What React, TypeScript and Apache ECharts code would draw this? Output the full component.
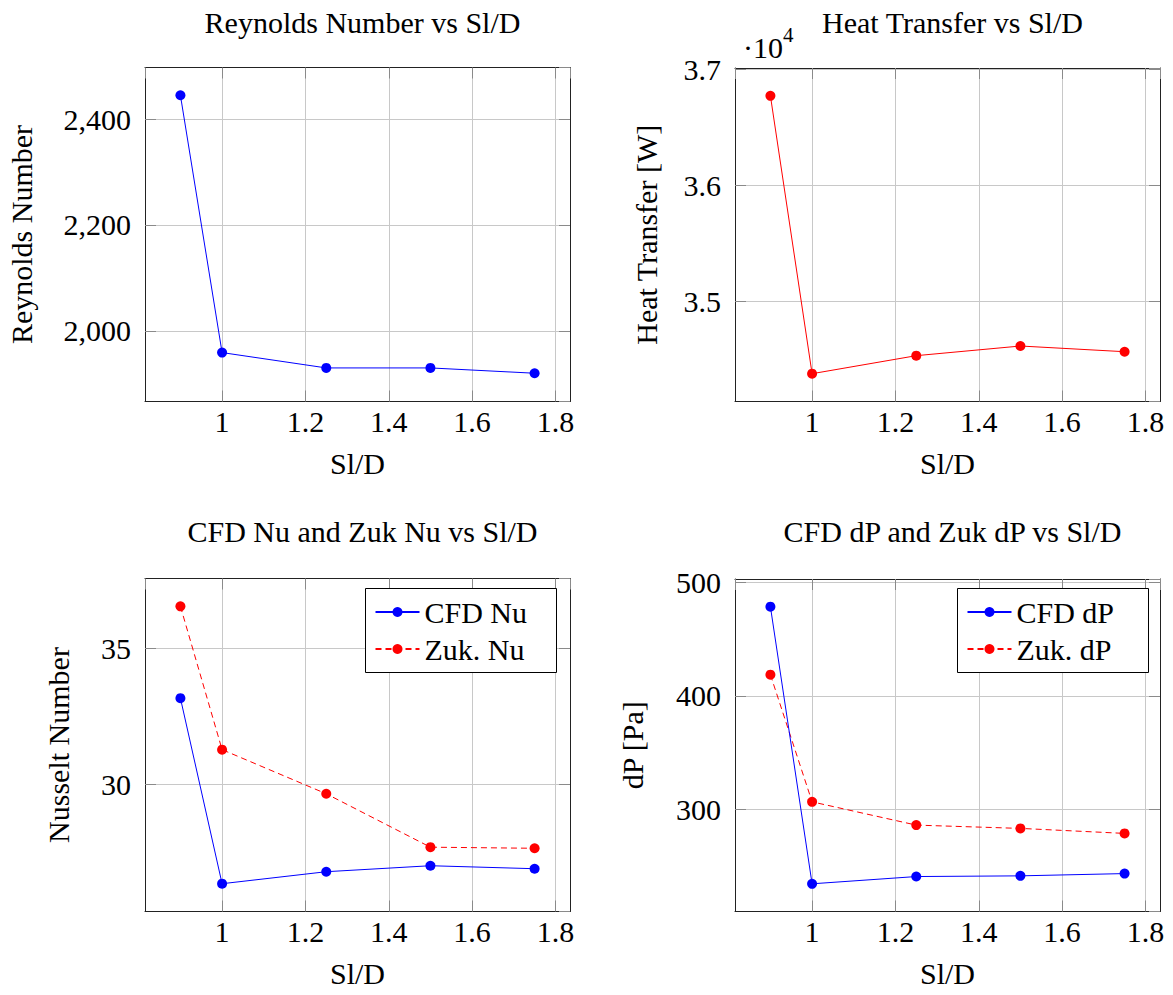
import React, { useEffect, useRef } from 'react';
import * as echarts from 'echarts';

// ---- data ----
const slD = [0.9, 1, 1.25, 1.5, 1.75];
const reynolds = [2445, 1959, 1930, 1930, 1920];
const heatTransfer = [36770, 34381, 34536, 34619, 34570];
const cfdNu = [33.17, 26.36, 26.8, 27.02, 26.91];
const zukNu = [36.54, 31.28, 29.66, 27.7, 27.66];
const cfdDP = [478.6, 234.5, 240.9, 241.5, 243.5];
const zukDP = [418.7, 306.7, 286.2, 283.3, 278.9];

const xRange = [0.815, 1.835];
const reynoldsRange = [1866.6, 2497.5];
const heatRange = [34142, 37009];
const nuRange = [25.34, 37.56];
const dpRange = [210.1, 503];

const titles = [
  'Reynolds Number vs Sl/D',
  'Heat Transfer vs Sl/D',
  'CFD Nu and Zuk Nu vs Sl/D',
  'CFD dP and Zuk dP vs Sl/D',
];
const yNames = ['Reynolds Number', 'Heat Transfer [W]', 'Nusselt Number', 'dP [Pa]'];
const xName = 'Sl/D';
const legendNu = ['CFD Nu', 'Zuk. Nu'];
const legendDP = ['CFD dP', 'Zuk. dP'];

const FONT = '"Liberation Serif", "DejaVu Serif", serif';
const FS = 30;
const BLUE = '#0000ff';
const RED = '#ff0000';
const GRIDC = '#c8c8c8';
const BOXC = '#222222';
const TICKC = '#8a8a8a';

const pair = (ys: number[]) => slD.map((x, i) => [x, ys[i]]);

export default function App() {
  const ref = useRef<HTMLDivElement>(null);
  useEffect(() => {
    if (!ref.current) return;
    const chart = echarts.init(ref.current, undefined, { renderer: 'svg' });

    const grids = [
      { left: 145, top: 67.5, width: 425, height: 334 },
      { left: 735, top: 68, width: 425, height: 333.5 },
      { left: 145, top: 578.5, width: 425, height: 333 },
      { left: 735, top: 579, width: 425, height: 332.5 },
    ];
    const yRanges = [reynoldsRange, heatRange, nuRange, dpRange];
    const yGaps = [109, 74, 72, 88];
    const yFormatters = [
      (v: number) => v.toLocaleString('en-US'),
      (v: number) => (v / 10000).toFixed(1),
      (v: number) => String(v),
      (v: number) => String(v),
    ];
    const titleTops = [2, 2, 511, 511];

    const xAxes: any[] = [];
    const yAxes: any[] = [];
    grids.forEach((g, i) => {
      xAxes.push({
        type: 'value',
        gridIndex: i,
        min: xRange[0],
        max: xRange[1],
        splitNumber: 5,
        name: xName,
        nameLocation: 'middle',
        nameGap: 47,
        nameTextStyle: { fontFamily: FONT, fontSize: FS, color: '#000' },
        axisLine: { show: true, lineStyle: { color: BOXC, width: 1 } },
        axisTick: { show: true, inside: true, length: 11, lineStyle: { color: TICKC } },
        axisLabel: {
          show: true,
          margin: 5,
          showMinLabel: false,
          showMaxLabel: false,
          fontFamily: FONT,
          fontSize: FS,
          color: '#000',
          formatter: (v: number) => String(Math.round(v * 10) / 10),
        },
        splitLine: { show: true, lineStyle: { color: GRIDC, width: 1 } },
      });
      xAxes.push({
        type: 'value',
        gridIndex: i,
        position: 'top',
        min: xRange[0],
        max: xRange[1],
        splitNumber: 5,
        axisLine: { show: true, lineStyle: { color: BOXC, width: 1 } },
        axisTick: { show: true, inside: true, length: 11, lineStyle: { color: TICKC } },
        axisLabel: { show: false },
        splitLine: { show: false },
      });
      yAxes.push({
        type: 'value',
        gridIndex: i,
        min: yRanges[i][0],
        max: yRanges[i][1],
        splitNumber: 3,
        name: yNames[i],
        nameLocation: 'middle',
        nameRotate: 90,
        nameGap: yGaps[i],
        nameTextStyle: { fontFamily: FONT, fontSize: FS, color: '#000' },
        axisLine: { show: true, lineStyle: { color: BOXC, width: 1 } },
        axisTick: { show: true, inside: true, length: 11, lineStyle: { color: TICKC } },
        axisLabel: {
          show: true,
          margin: 14,
          showMinLabel: false,
          showMaxLabel: false,
          fontFamily: FONT,
          fontSize: FS,
          color: '#000',
          formatter: yFormatters[i],
        },
        splitLine: { show: true, lineStyle: { color: GRIDC, width: 1 } },
      });
      yAxes.push({
        type: 'value',
        gridIndex: i,
        position: 'right',
        min: yRanges[i][0],
        max: yRanges[i][1],
        splitNumber: 3,
        axisLine: { show: true, lineStyle: { color: BOXC, width: 1 } },
        axisTick: { show: true, inside: true, length: 11, lineStyle: { color: TICKC } },
        axisLabel: { show: false },
        splitLine: { show: false },
      });
    });

    const mk = (name: string, ys: number[], gi: number, color: string, dashed: boolean) => ({
      name,
      type: 'line',
      xAxisIndex: gi * 2,
      yAxisIndex: gi * 2,
      data: pair(ys),
      symbol: 'circle',
      symbolSize: 10,
      showSymbol: true,
      itemStyle: { color },
      lineStyle: { color, width: 1, type: dashed ? [6, 4] : 'solid' },
      z: dashed ? 3 : 4,
    });

    const legendBase = {
      orient: 'vertical',
      top: 588.5,
      borderColor: '#000',
      borderWidth: 1,
      borderRadius: 0,
      backgroundColor: '#fff',
      padding: [7, 8, 7, 9],
      itemWidth: 44,
      itemHeight: 12.5,
      itemGap: 4,
      textStyle: { fontFamily: FONT, fontSize: FS, color: '#000', lineHeight: 33, width: 124 },
    };

    const option: any = {
      animation: false,
      backgroundColor: '#fff',
      title: titles.map((t, i) => ({
        text: t,
        left: grids[i].left + grids[i].width / 2,
        top: titleTops[i],
        textAlign: 'center',
        textStyle: { fontFamily: FONT, fontSize: FS, fontWeight: 'normal', color: '#000' },
      })),
      grid: grids.map((g) => ({ ...g, containLabel: false })),
      xAxis: xAxes,
      yAxis: yAxes,
      legend: [
        { ...legendBase, data: legendNu, left: 365.5 },
        { ...legendBase, data: legendDP, left: 957.5 },
      ],
      graphic: [
        {
          type: 'text',
          left: 743,
          top: 32,
          style: { text: '·10', fontFamily: FONT, fontSize: FS, fill: '#000' },
        },
        {
          type: 'text',
          left: 783,
          top: 24,
          style: { text: '4', fontFamily: FONT, fontSize: 21, fill: '#000' },
        },
      ],
      series: [
        mk('Reynolds', reynolds, 0, BLUE, false),
        mk('Heat Transfer', heatTransfer, 1, RED, false),
        mk(legendNu[0], cfdNu, 2, BLUE, false),
        mk(legendNu[1], zukNu, 2, RED, true),
        mk(legendDP[0], cfdDP, 3, BLUE, false),
        mk(legendDP[1], zukDP, 3, RED, true),
      ],
    };
    chart.setOption(option);
    return () => chart.dispose();
  }, []);

  return (
    <div
      ref={ref}
      style={{ position: 'absolute', left: 0, top: 0, width: 1173, height: 995, background: '#fff' }}
    />
  );
}
